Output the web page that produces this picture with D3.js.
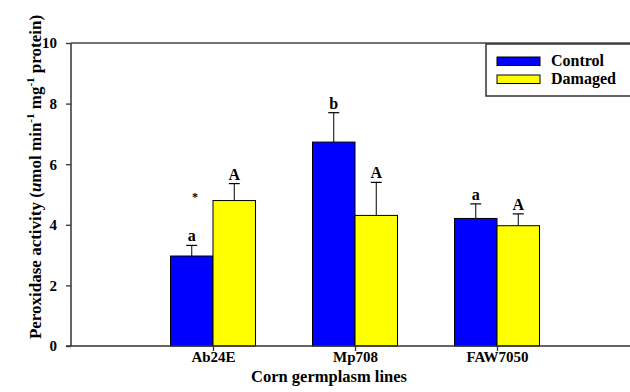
<!DOCTYPE html>
<html>
<head>
<meta charset="utf-8">
<script src="https://cdn.jsdelivr.net/npm/d3@7"></script>
<style>
  body { margin: 0; background: #fff; }
  svg text { font-family: "Liberation Serif", "Times New Roman", serif; font-weight: bold; fill: #000; }
</style>
</head>
<body>
<svg id="chart" width="630" height="392"></svg>
<script>
    // data
    var lines = ["Ab24E", "Mp708", "FAW7050"];
    var series = ["Control", "Damaged"];
    var colors = ["#0000ff", "#ffff00"];
    var control = [2.97, 6.73, 4.21];
    var damaged = [4.80, 4.31, 3.97];
    var controlErr = [0.35, 0.97, 0.48];
    var damagedErr = [0.56, 1.09, 0.39];
    var controlLetters = ["a", "b", "a"];
    var damagedLetters = ["A", "A", "A"];
    var yTicks = [0, 2, 4, 6, 8, 10];

(function() {
    var svg = d3.select("#chart");
    var mLeft = 71, mTop = 43, mBottom = 346, mRight = 639;

    var x = d3.scaleLinear().domain([0, 4]).range([mLeft, mRight]);
    var y = d3.scaleLinear().domain([0, 10]).range([mBottom, mTop]);
    var barW = 42.5;

    // bars
    var values = [control, damaged];
    var errs = [controlErr, damagedErr];
    var letters = [controlLetters, damagedLetters];
    var g = svg.append("g");
    series.forEach(function(s, si) {
        lines.forEach(function(l, i) {
            var cx = x(i + 1) + (si === 0 ? -barW : 0);
            var v = values[si][i];
            var mid = cx + barW / 2;
            var topE = y(v + errs[si][i]);
            g.append("line").attr("x1", mid).attr("x2", mid)
                .attr("y1", y(v)).attr("y2", topE)
                .attr("stroke", "#000").attr("stroke-width", 1);
            g.append("line").attr("x1", mid - 5.5).attr("x2", mid + 5.5)
                .attr("y1", topE).attr("y2", topE)
                .attr("stroke", "#000").attr("stroke-width", 1.2);
            g.append("rect")
                .attr("x", cx).attr("y", y(v))
                .attr("width", barW).attr("height", y(0) - y(v))
                .attr("fill", colors[si]).attr("stroke", "#000").attr("stroke-width", 1);
            g.append("text").attr("x", mid).attr("y", topE - 4)
                .attr("text-anchor", "middle").attr("font-size", "16px")
                .text(letters[si][i]);
        });
    });
    // significance mark
    g.append("text").attr("x", x(1) - 18).attr("y", y(4.8))
        .attr("text-anchor", "middle").attr("font-size", "12px").attr("font-weight", "normal")
        .text("*");

    // axes
    var yAxis = d3.axisLeft(y).tickValues(yTicks).tickSize(5).tickPadding(9);
    var ya = svg.append("g").attr("transform", "translate(" + mLeft + ",0)").call(yAxis);
    ya.select(".domain").remove();
    ya.selectAll("line").attr("stroke", "#333").attr("stroke-width", 1.3);
    ya.selectAll("text").attr("font-size", "15px").attr("font-family", "Liberation Serif").attr("font-weight", "bold");

    var xAxis = d3.axisBottom(x).tickValues([1, 2, 3]).tickFormat(function(d) { return lines[d - 1]; })
        .tickSize(5).tickPadding(0);
    var xa = svg.append("g").attr("transform", "translate(0," + mBottom + ")").call(xAxis);
    xa.select(".domain").remove();
    xa.selectAll("line").attr("stroke", "#333").attr("stroke-width", 1.3);
    xa.selectAll("text").attr("font-size", "15px").attr("font-family", "Liberation Serif").attr("font-weight", "bold");

    // frame lines
    svg.append("line").attr("x1", mLeft).attr("x2", mLeft).attr("y1", mTop).attr("y2", mBottom)
        .attr("stroke", "#333").attr("stroke-width", 1.5);
    svg.append("line").attr("x1", mLeft).attr("x2", 630).attr("y1", mTop).attr("y2", mTop)
        .attr("stroke", "#444").attr("stroke-width", 1.5);
    svg.append("line").attr("x1", mLeft - 5).attr("x2", 630).attr("y1", mBottom).attr("y2", mBottom)
        .attr("stroke", "#333").attr("stroke-width", 1.5);

    // axis titles
    svg.append("text").attr("x", 329).attr("y", 382).attr("text-anchor", "middle")
        .attr("font-size", "16.5px").text("Corn germplasm lines");

    var yt = svg.append("text").attr("transform", "translate(41,177) rotate(-90)")
        .attr("text-anchor", "middle").attr("font-size", "17px");
    yt.append("tspan").text("Peroxidase activity (");
    yt.append("tspan").attr("font-style", "italic").text("u");
    yt.append("tspan").text("mol min");
    yt.append("tspan").attr("dy", -7).attr("font-size", "11px").text("-1");
    yt.append("tspan").attr("dy", 7).text(" mg");
    yt.append("tspan").attr("dy", -7).attr("font-size", "11px").text("-1");
    yt.append("tspan").attr("dy", 7).text(" protein)");

    // legend
    var lg = svg.append("g");
    lg.append("rect").attr("x", 486).attr("y", 44).attr("width", 150).attr("height", 52)
        .attr("fill", "#fff").attr("stroke", "#333").attr("stroke-width", 1.5);
    series.forEach(function(s, i) {
        lg.append("rect").attr("x", 497).attr("y", 57 + i * 18).attr("width", 43).attr("height", 8.5)
            .attr("fill", colors[i]).attr("stroke", "#000").attr("stroke-width", 1);
        lg.append("text").attr("x", 551).attr("y", 66 + i * 18).attr("font-size", "16px").text(s);
    });
})();
</script>
</body>
</html>
